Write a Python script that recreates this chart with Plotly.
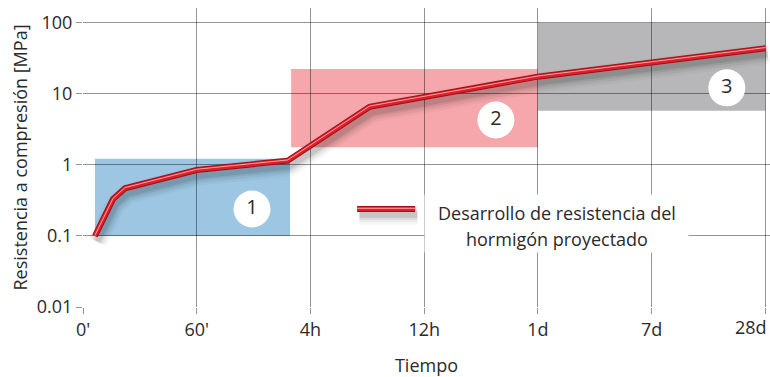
import plotly.graph_objects as go

# Age categories on the time axis (equally spaced)
time_labels = ["0'", "60'", "4h", "12h", "1d", "7d", "28d"]
time_pos = [0, 1, 2, 3, 4, 5, 6]

# Strength values on the compression axis
strength_ticks = [0.01, 0.1, 1, 10, 100]
strength_text = ["0.01", "0.1", "1", "10", "100"]

# Strength development curve (position on time axis, MPa)
curve_x = [0.105, 0.264, 0.37, 1.0, 1.80, 2.52, 4.0, 6.0]
curve_y = [0.10, 0.33, 0.47, 0.85, 1.15, 6.6, 17.5, 44.0]

# Strength ranges: [x0, x1, y0, y1]
zone_1 = [0.105, 1.82, 0.10, 1.22]
zone_2 = [1.83, 4.0, 1.78, 22.5]
zone_3 = [4.0, 6.0, 5.8, 100.0]
zone_ids = ["1", "2", "3"]
zone_label_x = [1.486, 3.63, 5.66]
zone_label_y = [0.24, 4.3, 12.2]

legend_x = [2.41, 2.92]
legend_y = [0.24, 0.24]

FONT = "Open Sans"
TXT = "#2a2a2a"
FS = 18

fig = go.Figure()


def styled_line(xs, ys):
    # soft drop shadow, offset down a little
    sx = [x + 0.02 for x in xs]
    sy = [y * 10 ** (-0.08) for y in ys]
    for w, a in [(20, 0.03), (15, 0.05), (10, 0.07), (6, 0.09)]:
        fig.add_trace(go.Scatter(x=sx, y=sy, mode="lines", hoverinfo="skip",
                                 line=dict(color=f"rgba(0,0,0,{a})", width=w),
                                 showlegend=False))
    # dark edge, red body and light highlight
    fig.add_trace(go.Scatter(x=xs, y=ys, mode="lines", hoverinfo="skip",
                             line=dict(color="#9e0f17", width=6), showlegend=False))
    fig.add_trace(go.Scatter(x=xs, y=ys, mode="lines", hoverinfo="skip",
                             line=dict(color="#dc1f2a", width=4), showlegend=False))
    hy = [y * 10 ** 0.01 for y in ys]
    fig.add_trace(go.Scatter(x=xs, y=hy, mode="lines", hoverinfo="skip",
                             line=dict(color="rgba(255,195,195,0.8)", width=1),
                             showlegend=False))


styled_line(curve_x, curve_y)

# numbered circles
fig.add_trace(go.Scatter(
    x=zone_label_x, y=zone_label_y, mode="markers+text", text=zone_ids,
    textposition="middle center", hoverinfo="skip", showlegend=False,
    marker=dict(size=37, color="white", line=dict(width=0)),
    textfont=dict(family=FONT, size=20, color=TXT),
))

styled_line(legend_x, legend_y)

# coloured strength ranges, beneath the grid
for z, c in [(zone_1, "#9cc6e2"), (zone_2, "#f5a7ab"), (zone_3, "#b7b7b9")]:
    fig.add_shape(type="rect", xref="x", yref="y", x0=z[0], x1=z[1], y0=z[2], y1=z[3],
                  fillcolor=c, line=dict(width=0), layer="below")

# legend box and text
fig.add_annotation(xref="paper", yref="paper", x=0.6895, y=0.2795, text="",
                   xanchor="center", yanchor="middle",
                   width=263, height=57, bgcolor="white", showarrow=False, borderpad=0)
fig.add_annotation(xref="paper", yref="paper", x=0.6895, y=0.3155,
                   xanchor="center", yanchor="middle",
                   text="Desarrollo de resistencia del", showarrow=False,
                   font=dict(family=FONT, size=FS, color=TXT))
fig.add_annotation(xref="paper", yref="paper", x=0.6895, y=0.2285,
                   xanchor="center", yanchor="middle",
                   text="hormigón proyectado", showarrow=False,
                   font=dict(family=FONT, size=FS, color=TXT))

# last time label sits flush with the right edge
tick_text = time_labels[:-1] + [""]
fig.add_annotation(xref="paper", yref="paper", x=1.0, y=-0.0669,
                   xanchor="right", yanchor="middle", text=time_labels[-1],
                   showarrow=False, xshift=-1,
                   font=dict(family=FONT, size=FS, color=TXT))

grid = "rgba(0,0,0,0.42)"
fig.update_layout(
    width=770, height=377,
    margin=dict(l=83, r=0, t=8, b=70, autoexpand=False),
    paper_bgcolor="white", plot_bgcolor="white",
    font=dict(family=FONT, size=FS, color=TXT),
    xaxis=dict(range=[0, 6.04], tickvals=time_pos, ticktext=tick_text,
               showgrid=True, gridcolor=grid, gridwidth=1, zeroline=False,
               ticks="outside", ticklen=6, tickcolor=grid, showline=False,
               automargin=False,
               title=dict(text="Tiempo", font=dict(size=FS), standoff=20),
               tickfont=dict(size=FS)),
    yaxis=dict(type="log", range=[-2, 2.21], tickvals=strength_ticks,
               ticktext=strength_text, showgrid=True, gridcolor=grid, gridwidth=1,
               zeroline=False, ticks="outside", ticklen=6, tickcolor=grid,
               showline=False, automargin=False,
               title=dict(text="Resistencia a compresión [MPa]", font=dict(size=FS),
                          standoff=4),
               tickfont=dict(size=FS)),
)

fig.write_html("out.html")
